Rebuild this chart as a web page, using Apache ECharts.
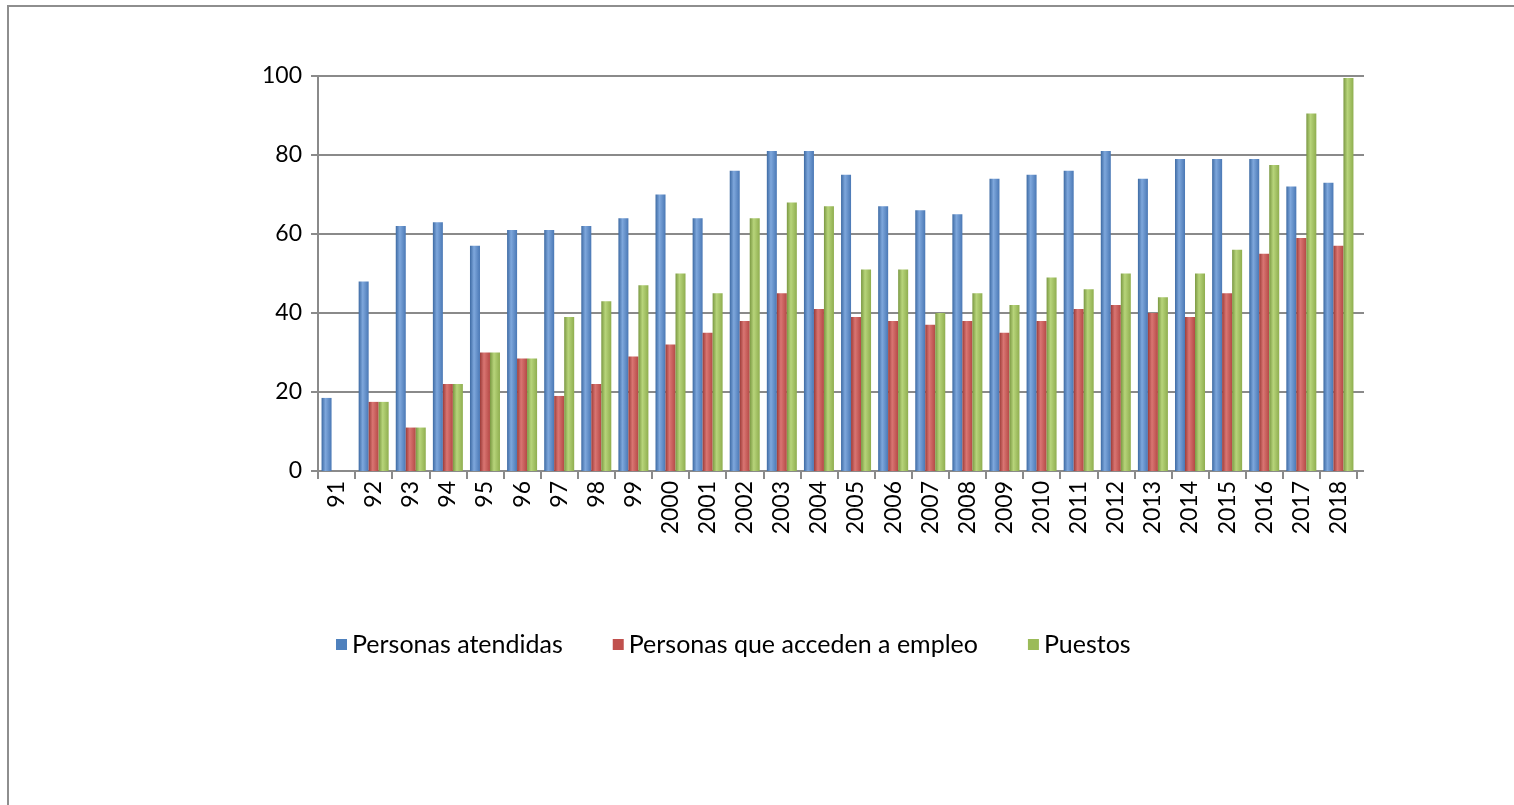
<!DOCTYPE html>
<html>
<head>
<meta charset="utf-8">
<script src="https://cdn.jsdelivr.net/npm/echarts@6/dist/echarts.min.js"></script>
<style>
    html, body {margin: 0; padding: 0; background: #fff; overflow: hidden;}
    #frame {position: absolute; left: 7px; top: 5px; width: 2000px; height: 2000px; border: 2px solid #8e8e8e;}
    #main {position: absolute; left: 0; top: 0; width: 1514px; height: 805px;}
</style>
</head>
<body>
<div id="frame"></div>
<div id="main"></div>
<script>
var years = ['91', '92', '93', '94', '95', '96', '97', '98', '99', '2000', '2001', '2002', '2003', '2004',
    '2005', '2006', '2007', '2008', '2009', '2010', '2011', '2012', '2013', '2014', '2015', '2016', '2017', '2018'];

var atendidas = [18.5, 48, 62, 63, 57, 61, 61, 62, 64, 70, 64, 76, 81, 81,
    75, 67, 66, 65, 74, 75, 76, 81, 74, 79, 79, 79, 72, 73];

var empleo = [null, 17.5, 11, 22, 30, 28.5, 19, 22, 29, 32, 35, 38, 45, 41,
    39, 38, 37, 38, 35, 38, 41, 42, 40, 39, 45, 55, 59, 57];

var puestos = [null, 17.5, 11, 22, 30, 28.5, 39, 43, 47, 50, 45, 64, 68, 67,
    51, 51, 40, 45, 42, 49, 46, 50, 44, 50, 56, 77.5, 90.5, 99.5];

var yTicks = [0, 20, 40, 60, 80, 100];

~function () {
    var myChart = echarts.init(document.getElementById('main'));
    var font = 'Lato, "Noto Sans", sans-serif';

    // cylinder-ish shading like the office 3d columns
    function shade(dark, light, base) {
        return new echarts.graphic.LinearGradient(0, 0, 1, 0, [
            {offset: 0, color: dark},
            {offset: 0.4, color: light},
            {offset: 1, color: base}
        ]);
    }

    var option = {
        animation: false,
        legend: {
            data: [
                {name: 'Personas atendidas', itemStyle: {color: '#4f81bd'}},
                {name: 'Personas que acceden a empleo', itemStyle: {color: '#c0504d'}},
                {name: 'Puestos', itemStyle: {color: '#9bbb59'}}
            ],
            left: 331,
            top: 627,
            icon: 'rect',
            itemWidth: 11,
            itemHeight: 11,
            itemGap: 50,
            textStyle: {fontFamily: font, fontSize: 25, color: '#000'}
        },
        grid: {
            left: 318,
            right: 157,
            top: 76,
            bottom: 334
        },
        xAxis: [
            {
                type: 'category',
                data: years,
                axisLine: {lineStyle: {color: '#8a8a8a', width: 2}},
                axisTick: {show: true, length: 8, lineStyle: {color: '#8a8a8a', width: 2}},
                axisLabel: {rotate: 90, margin: 10, fontFamily: font, fontSize: 23, color: '#000'}
            }
        ],
        yAxis: [
            {
                type: 'value',
                min: yTicks[0],
                max: yTicks[yTicks.length - 1],
                interval: 20,
                axisLine: {show: true, lineStyle: {color: '#8a8a8a', width: 2}},
                axisTick: {show: true, length: 7, lineStyle: {color: '#8a8a8a', width: 2}},
                axisLabel: {margin: 16, fontFamily: font, fontSize: 23, color: '#000'},
                splitLine: {lineStyle: {color: '#8a8a8a', width: 2}}
            },
            {
                type: 'value',
                position: 'right',
                min: yTicks[0],
                max: yTicks[yTicks.length - 1],
                interval: 20,
                axisLine: {show: false},
                axisTick: {show: true, length: 7, lineStyle: {color: '#8a8a8a', width: 2}},
                axisLabel: {show: false},
                splitLine: {show: false}
            }
        ],
        series: [
            {
                name: 'Personas atendidas',
                type: 'bar',
                data: atendidas,
                barWidth: 10,
                barGap: '0%',
                itemStyle: {color: shade('#3d6aa3', '#7ea7dc', '#4a78b5')}
            },
            {
                name: 'Personas que acceden a empleo',
                type: 'bar',
                data: empleo,
                barWidth: 10,
                barGap: '0%',
                itemStyle: {color: shade('#9c3b38', '#d97572', '#b54946')}
            },
            {
                name: 'Puestos',
                type: 'bar',
                data: puestos,
                barWidth: 10,
                barGap: '0%',
                itemStyle: {color: shade('#7a9842', '#b7d47a', '#8fae4f')}
            }
        ]
    };
    myChart.setOption(option);
}();
</script>
</body>
</html>
